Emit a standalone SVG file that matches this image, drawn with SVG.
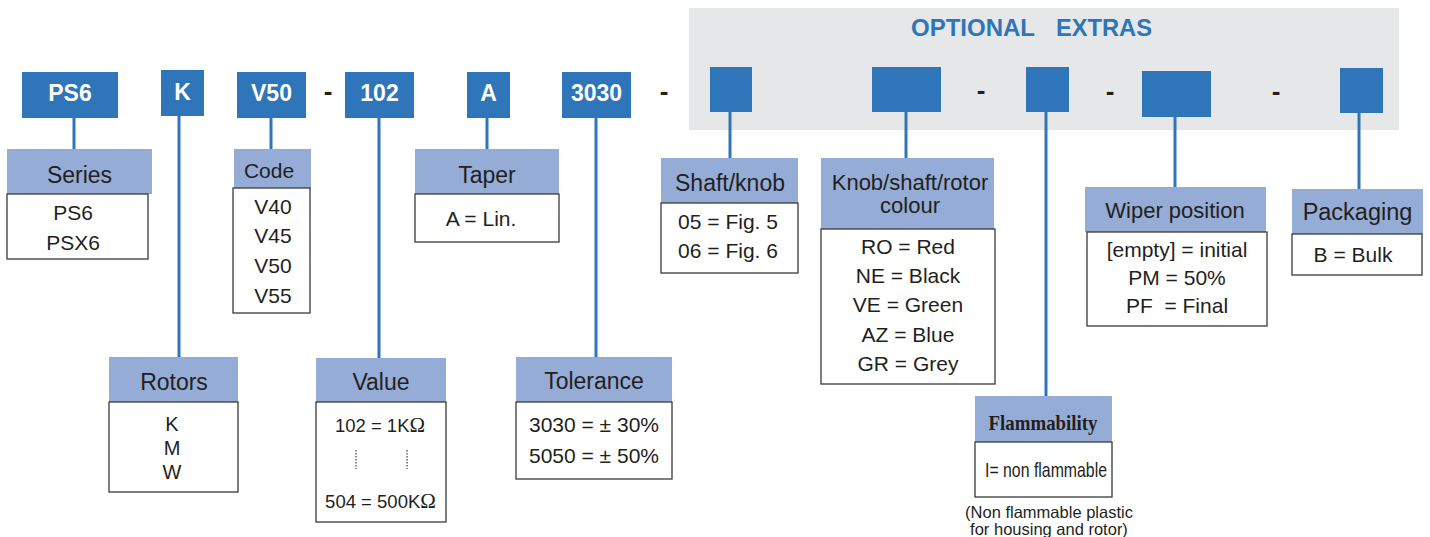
<svg xmlns="http://www.w3.org/2000/svg" width="1430" height="537" viewBox="0 0 1430 537">
<style>
.code{fill:#2e75b9}
.lbl{font-family:"Liberation Sans",Arial,sans-serif;font-weight:bold;font-size:23px;fill:#ffffff;text-anchor:middle}
.hd{fill:#95acd6}
.bd{fill:#ffffff;stroke:#3a3a3a;stroke-width:1.3}
.ht{font-family:"Liberation Sans",Arial,sans-serif;font-size:23px;fill:#231f20;text-anchor:middle}
.bt{font-family:"Liberation Sans",Arial,sans-serif;font-size:21px;fill:#231f20;text-anchor:middle}
.om{font-family:"Liberation Serif","Times New Roman",serif;font-size:21px}
.dash{font-family:"Liberation Sans",Arial,sans-serif;font-weight:bold;font-size:26px;fill:#231f20;text-anchor:middle}
.conn line{stroke:#2e75b9;stroke-width:3}
</style>

<rect id="optional-bg" x="689" y="8" width="710" height="122" fill="#e6e7e9"/>
<text x="911" y="36" font-family="'Liberation Sans',Arial,sans-serif" font-weight="bold" font-size="24" fill="#2e75b9" textLength="124" lengthAdjust="spacingAndGlyphs">OPTIONAL</text>
<text x="1056" y="36" font-family="'Liberation Sans',Arial,sans-serif" font-weight="bold" font-size="24" fill="#2e75b9" textLength="96" lengthAdjust="spacingAndGlyphs">EXTRAS</text>

<g class="conn" id="connectors">
<line x1="74" y1="117" x2="74" y2="149"/>
<line x1="179" y1="115" x2="179" y2="357"/>
<line x1="271" y1="117" x2="271" y2="149"/>
<line x1="379" y1="117" x2="379" y2="358"/>
<line x1="487" y1="117" x2="487" y2="149"/>
<line x1="596" y1="117" x2="596" y2="357"/>
<line x1="730" y1="112" x2="730" y2="158"/>
<line x1="906" y1="112" x2="906" y2="158"/>
<line x1="1046" y1="112" x2="1046" y2="396"/>
<line x1="1175" y1="116" x2="1175" y2="187"/>
<line x1="1359" y1="113" x2="1359" y2="189"/>
</g>

<g id="codes">
<g id="c-ps6"><rect class="code" x="22" y="72" width="96" height="46"/><text class="lbl" x="70" y="101">PS6</text></g>
<g id="c-k"><rect class="code" x="161" y="70" width="43" height="46"/><text class="lbl" x="182.5" y="100">K</text></g>
<g id="c-v50"><rect class="code" x="237" y="72" width="69" height="46"/><text class="lbl" x="271.5" y="101">V50</text></g>
<text class="dash" x="328" y="100">-</text>
<g id="c-102"><rect class="code" x="345" y="72" width="69" height="46"/><text class="lbl" x="379.5" y="101">102</text></g>
<g id="c-a"><rect class="code" x="467" y="72" width="43" height="46"/><text class="lbl" x="488.5" y="101">A</text></g>
<g id="c-3030"><rect class="code" x="562" y="72" width="69" height="46"/><text class="lbl" x="596.5" y="101">3030</text></g>
<text class="dash" x="664" y="100">-</text>
<g id="c-opt1"><rect class="code" x="710" y="67" width="42" height="45"/></g>
<g id="c-opt2"><rect class="code" x="872" y="67" width="69" height="45"/></g>
<text class="dash" x="981" y="99">-</text>
<g id="c-opt3"><rect class="code" x="1026" y="67" width="43" height="45"/></g>
<text class="dash" x="1110" y="100">-</text>
<g id="c-opt4"><rect class="code" x="1142" y="71" width="69" height="46"/></g>
<text class="dash" x="1276" y="100">-</text>
<g id="c-opt5"><rect class="code" x="1340" y="68" width="43" height="45"/></g>
</g>

<g id="series">
<rect class="hd" x="7" y="149" width="145" height="45"/>
<rect class="bd" x="7" y="194" width="141" height="65"/>
<text class="ht" x="79.5" y="183">Series</text>
<text class="bt" x="73" y="220">PS6</text>
<text class="bt" x="73" y="250">PSX6</text>
</g>

<g id="code">
<rect class="hd" x="234" y="149" width="77" height="39"/>
<rect class="bd" x="233" y="188" width="77" height="125"/>
<text class="ht" x="269" y="178" style="font-size:21px">Code</text>
<text class="bt" x="273" y="214">V40</text>
<text class="bt" x="273" y="243">V45</text>
<text class="bt" x="273" y="273">V50</text>
<text class="bt" x="273" y="303">V55</text>
</g>

<g id="rotors">
<rect class="hd" x="109" y="357" width="129" height="45"/>
<rect class="bd" x="109" y="402" width="129" height="90"/>
<text class="ht" x="174" y="390">Rotors</text>
<text class="bt" x="172" y="431" style="font-size:20px">K</text>
<text class="bt" x="172" y="455" style="font-size:20px">M</text>
<text class="bt" x="172" y="479" style="font-size:20px">W</text>
</g>

<g id="value">
<rect class="hd" x="316" y="358" width="130" height="44"/>
<rect class="bd" x="316" y="402" width="130" height="120"/>
<text class="ht" x="381" y="390">Value</text>
<text class="bt" x="380" y="432" style="font-size:18.5px">102 = 1K<tspan class="om">Ω</tspan></text>
<line x1="356" y1="450" x2="356" y2="469" stroke="#3a3a3a" stroke-width="1.2" stroke-dasharray="1.5 1.5"/>
<line x1="407" y1="450" x2="407" y2="469" stroke="#3a3a3a" stroke-width="1.2" stroke-dasharray="1.5 1.5"/>
<text class="bt" x="380.5" y="508" style="font-size:18.5px">504 = 500K<tspan class="om">Ω</tspan></text>
</g>

<g id="taper">
<rect class="hd" x="415" y="149" width="144" height="45"/>
<rect class="bd" x="415" y="194" width="144" height="48"/>
<text class="ht" x="487" y="183">Taper</text>
<text class="bt" x="481" y="226">A = Lin.</text>
</g>

<g id="tolerance">
<rect class="hd" x="516" y="357" width="156" height="45"/>
<rect class="bd" x="516" y="402" width="156" height="77"/>
<text class="ht" x="594" y="389">Tolerance</text>
<text class="bt" x="594" y="432">3030 = ± 30%</text>
<text class="bt" x="594" y="463">5050 = ± 50%</text>
</g>

<g id="shaft">
<rect class="hd" x="661" y="158" width="137" height="45"/>
<rect class="bd" x="661" y="203" width="137" height="70"/>
<text class="ht" x="730" y="191">Shaft/knob</text>
<text class="bt" x="728" y="229">05 = Fig. 5</text>
<text class="bt" x="728" y="258">06 = Fig. 6</text>
</g>

<g id="colour">
<rect class="hd" x="821" y="158" width="173" height="71"/>
<rect class="bd" x="821" y="229" width="174" height="155"/>
<text class="ht" x="910" y="190" style="font-size:22px">Knob/shaft/rotor</text>
<text class="ht" x="910" y="213" style="font-size:22px">colour</text>
<text class="bt" x="908" y="254">RO = Red</text>
<text class="bt" x="908" y="283">NE = Black</text>
<text class="bt" x="908" y="312">VE = Green</text>
<text class="bt" x="908" y="342">AZ = Blue</text>
<text class="bt" x="908" y="371">GR = Grey</text>
</g>

<g id="flammability">
<rect class="hd" x="975" y="396" width="137" height="46"/>
<rect class="bd" x="975" y="442" width="137" height="55"/>
<text x="1043" y="430" font-family="'Liberation Serif','Times New Roman',serif" font-weight="bold" font-size="22" fill="#231f20" text-anchor="middle" textLength="109" lengthAdjust="spacingAndGlyphs">Flammability</text>
<text x="1046" y="477" font-family="'Liberation Sans',Arial,sans-serif" font-size="21" fill="#231f20" text-anchor="middle" textLength="122" lengthAdjust="spacingAndGlyphs">I= non flammable</text>
<text class="bt" x="1049" y="518" style="font-size:16.5px">(Non flammable plastic</text>
<text class="bt" x="1049" y="535" style="font-size:16.5px">for housing and rotor)</text>
</g>

<g id="wiper">
<rect class="hd" x="1085" y="187" width="181" height="45"/>
<rect class="bd" x="1087" y="232" width="180" height="94"/>
<text class="ht" x="1175" y="218" style="font-size:22px">Wiper position</text>
<text class="bt" x="1177" y="257">[empty] = initial</text>
<text class="bt" x="1177" y="285">PM = 50%</text>
<text class="bt" x="1177" y="313" style="white-space:pre">PF  = Final</text>
</g>

<g id="packaging">
<rect class="hd" x="1292" y="189" width="131" height="45"/>
<rect class="bd" x="1292" y="234" width="130" height="41"/>
<text class="ht" x="1357.5" y="220" style="font-size:23.5px">Packaging</text>
<text class="bt" x="1353" y="262">B = Bulk</text>
</g>
</svg>
